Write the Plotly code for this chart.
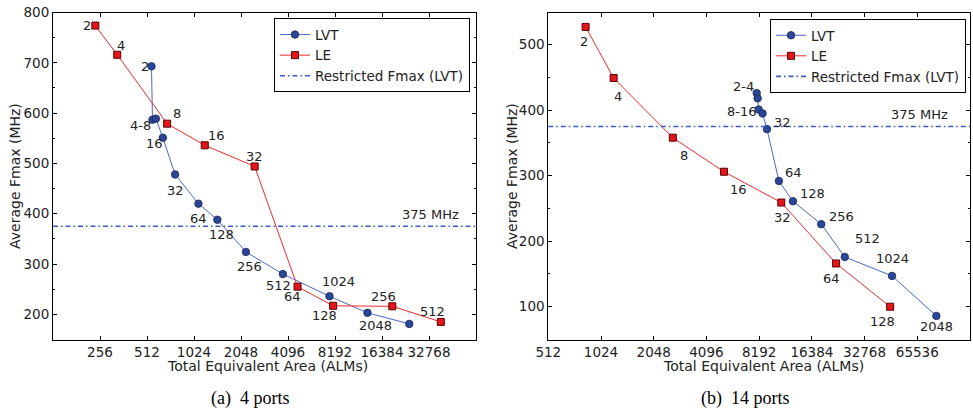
import math
import plotly.graph_objects as go

# ---------------- data ----------------
# (a) 4 ports
a_lvt_area = [547, 555, 584, 647, 775, 1093, 1445, 2204, 3800, 7553, 13220, 24500]
a_lvt_fmax = [693, 587, 589, 551, 478, 420, 388, 324, 280, 236, 203, 181]
a_lvt_text = ["2", "4-8", "", "16", "32", "64", "128", "256", "512", "1024", "2048", ""]

a_le_area = [239, 330, 689, 1200, 2505, 4714, 7970, 19080, 39000]
a_le_fmax = [774, 716, 579, 536, 494, 255, 217, 216, 185]
a_le_text = ["2", "4", "8", "16", "32", "64", "128", "256", "512"]

# (b) 14 ports
b_lvt_area = [7930, 8030, 8140, 8570, 9080, 10620, 12770, 18530, 25260, 47000, 84200]
b_lvt_fmax = [426, 418, 401, 395, 371, 292, 261, 226, 176, 147, 86]
b_lvt_text = ["2-4", "", "8-16", "", "32", "64", "128", "256", "512", "1024", "2048"]

b_le_area = [836, 1209, 2632, 5160, 10960, 22540, 45870]
b_le_fmax = [527, 449, 358, 306, 259, 166, 100]
b_le_text = ["2", "4", "8", "16", "32", "64", "128"]

restricted_fmax = 375

a_xticks = [256, 512, 1024, 2048, 4096, 8192, 16384, 32768]
b_xticks = [512, 1024, 2048, 4096, 8192, 16384, 32768, 65536]

# ---------------- label offsets (px, y up) ----------------
a_lvt_off = [(-6, 0), (-12, -6), (0, 0), (-8, -6), (0, -16), (0, -15), (4, -15),
             (4, -15), (-4, -11), (9, 15), (8, -13), (0, 0)]
a_le_off = [(-8, 0), (4, 9), (10, 10), (12, 10), (0, 10), (-5, -10), (-9, -10),
            (-9, 10), (-8, 10)]
b_lvt_off = [(-13, 7), (0, 0), (-17, -2), (0, 0), (16, 7), (15, 8), (20, 8),
             (20, 8), (23, 18), (0, 17), (0, -11)]
b_le_off = [(-2, -15), (4, -18), (11, -18), (14, -18), (1, -15), (-5, -15), (-8, -15)]

# ---------------- styles ----------------
W, H = 973, 412
FONT = "DejaVu Sans"
TXT = "#222222"
BLUE_M = "#2b4696"
BLUE_L = "#4a68c8"
RED_M = "#e4161c"
RED_L = "#f02a2a"
HL = "#3a5bc4"

fig = go.Figure()

def add_panel(xa, ya, leg, lvt_x, lvt_y, le_x, le_y):
    fig.add_trace(go.Scatter(
        x=lvt_x, y=lvt_y, mode="lines+markers", name="LVT",
        line=dict(color=BLUE_L, width=1),
        marker=dict(symbol="circle", size=7.5, color=BLUE_M,
                    line=dict(color="#1a2a60", width=0.8)),
        xaxis=xa, yaxis=ya, legend=leg))
    fig.add_trace(go.Scatter(
        x=le_x, y=le_y, mode="lines+markers", name="LE",
        line=dict(color=RED_L, width=1),
        marker=dict(symbol="square", size=7, color=RED_M,
                    line=dict(color="#5a0000", width=1)),
        xaxis=xa, yaxis=ya, legend=leg))
    fig.add_shape(type="line", xref=xa + " domain", yref=ya,
                  x0=0, x1=1, y0=restricted_fmax, y1=restricted_fmax,
                  line=dict(color=HL, width=1.6, dash="5px,3px,1.5px,3px"),
                  showlegend=True, name="Restricted Fmax (LVT)", legend=leg)

add_panel("x", "y", "legend", a_lvt_area, a_lvt_fmax, a_le_area, a_le_fmax)
add_panel("x2", "y2", "legend2", b_lvt_area, b_lvt_fmax, b_le_area, b_le_fmax)

def add_labels(xa, ya, xs, ys, texts, offs):
    for x, y, t, (dx, dy) in zip(xs, ys, texts, offs):
        if not t:
            continue
        fig.add_annotation(x=math.log10(x), y=y, xref=xa, yref=ya, text=t,
                           showarrow=False, xshift=dx, yshift=dy,
                           xanchor="center", yanchor="middle",
                           font=dict(family=FONT, size=13, color=TXT))

add_labels("x", "y", a_lvt_area, a_lvt_fmax, a_lvt_text, a_lvt_off)
add_labels("x", "y", a_le_area, a_le_fmax, a_le_text, a_le_off)
add_labels("x2", "y2", b_lvt_area, b_lvt_fmax, b_lvt_text, b_lvt_off)
add_labels("x2", "y2", b_le_area, b_le_fmax, b_le_text, b_le_off)

for xa, ya, xd in (("x", "y", 0.893), ("x2", "y2", 0.881)):
    fig.add_annotation(x=xd, y=restricted_fmax, xref=xa + " domain", yref=ya,
                       text=f"{restricted_fmax} MHz", showarrow=False, yshift=12,
                       xanchor="center", yanchor="middle",
                       font=dict(family=FONT, size=13, color=TXT))

# ---------------- axes ----------------
L2 = math.log10(2)
ax_common = dict(showline=True, linecolor="black", linewidth=1, mirror="allticks",
                 ticks="inside", ticklen=4, tickcolor="black", showgrid=False,
                 zeroline=False, automargin=False,
                 tickfont=dict(family=FONT, size=13.5, color=TXT))

y_top, y_bot = 1 - 12.5 / H, 1 - 339.5 / H
fig.update_layout(
    xaxis=dict(type="log", range=[7 * L2, 16 * L2], domain=[53 / W, 476 / W],
               tickvals=a_xticks, ticktext=[str(v) for v in a_xticks],
               anchor="y", **ax_common),
    yaxis=dict(range=[150, 800], dtick=100, domain=[y_bot, y_top], anchor="x",
               minor=dict(dtick=50, ticks="inside", ticklen=2, tickcolor="black"),
               **ax_common),
    xaxis2=dict(type="log", range=[9 * L2, 17 * L2], domain=[548.3 / W, 970 / W],
                tickvals=b_xticks, ticktext=[str(v) for v in b_xticks],
                anchor="y2", **ax_common),
    yaxis2=dict(range=[50, 549], dtick=100, domain=[y_bot, y_top], anchor="x2",
                minor=dict(dtick=50, ticks="inside", ticklen=2, tickcolor="black"),
                **ax_common),
)

leg_common = dict(bgcolor="white", bordercolor="black", borderwidth=1,
                  font=dict(family=FONT, size=13.5, color=TXT),
                  xanchor="right", yanchor="top", tracegroupgap=0,
                  itemwidth=30)
fig.update_layout(
    legend=dict(x=470 / W, y=1 - 18.3 / H, **leg_common),
    legend2=dict(x=966 / W, y=1 - 19 / H, **leg_common),
)

# axis titles and captions
for xc in (267 / W, 763 / W):
    fig.add_annotation(x=xc, y=1 - 366 / H, xref="paper", yref="paper",
                       text="Total Equivalent Area (ALMs)", showarrow=False,
                       xanchor="center", yanchor="middle",
                       font=dict(family=FONT, size=14, color=TXT))
for xc in (15 / W, 512 / W):
    fig.add_annotation(x=xc, y=(y_top + y_bot) / 2, xref="paper", yref="paper",
                       text="Average Fmax (MHz)", showarrow=False, textangle=-90,
                       xanchor="center", yanchor="middle",
                       font=dict(family=FONT, size=14, color=TXT))
for xc, t in ((250 / W, "(a)  4 ports"), (745 / W, "(b)  14 ports")):
    fig.add_annotation(x=xc, y=1 - 398 / H, xref="paper", yref="paper",
                       text=t, showarrow=False,
                       xanchor="center", yanchor="middle",
                       font=dict(family="Liberation Serif", size=18, color="black"))

fig.update_layout(width=W, height=H, margin=dict(l=0, r=0, t=0, b=0),
                  plot_bgcolor="white", paper_bgcolor="white", showlegend=True)

fig.write_html("out.html", config={"displayModeBar": False},
               post_script="document.body.style.margin='0';"
                           "document.body.style.overflow='hidden';")
